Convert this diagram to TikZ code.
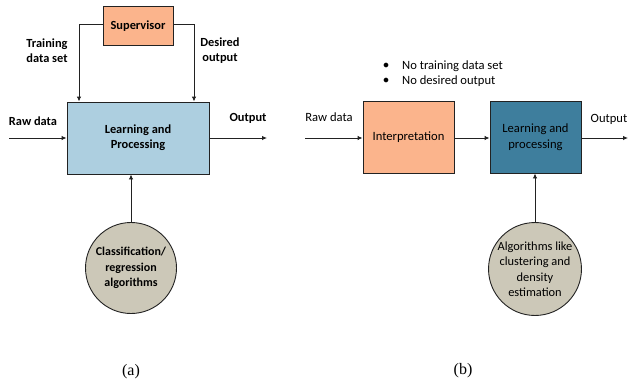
\documentclass[tikz,border=0pt]{standalone}
\usepackage{fontspec}
\setmainfont{Carlito}
\newfontfamily\capfont{Liberation Serif}
\usetikzlibrary{arrows.meta}
\definecolor{salmon}{HTML}{FBB48C}
\definecolor{lblue}{HTML}{ADCFE0}
\definecolor{teal2}{HTML}{3E7E9D}
\definecolor{cgray}{HTML}{CCC8B8}
\definecolor{edge}{HTML}{222222}
\begin{document}
\begin{tikzpicture}[x=1pt,y=-1pt,
  box/.style={draw=edge,line width=0.9pt,inner sep=0pt,align=center,font=\fontsize{12.6}{15.5}\selectfont},
  circ/.style={draw=edge,line width=0.9pt,circle,fill=cgray,inner sep=0pt,align=center,font=\fontsize{12.4}{15.5}\selectfont},
  lbl/.style={align=center,font=\fontsize{12.6}{15}\selectfont,inner sep=0pt},
  bfl/.style={font=\bfseries\fontsize{12.4}{15}\selectfont},
  conn/.style={line width=0.9pt,draw=edge,-{Latex[length=5pt,width=4.5pt]}},
  captext/.style={font=\capfont\fontsize{16}{18}\selectfont,inner sep=0pt}]
\useasboundingbox (0,0) rectangle (629,386);
% ---- panel (a)
\node[box,fill=salmon,minimum width=70pt,minimum height=39pt,bfl] (sup) at (138,26) {Supervisor};
\node[box,fill=lblue,minimum width=142pt,minimum height=72pt,bfl] (lp) at (138,138) {Learning and\\Processing};
\node[circ,minimum size=91pt,font=\bfseries\fontsize{12}{15.5}\selectfont] (ca) at (131,268) {Classification/\\regression\\algorithms};
\coordinate (tl) at (79,24);
\coordinate (tr) at (194,24);
\draw[conn] (sup.west |- tl) -- (tl) -- (tl |- lp.north);
\draw[conn] (sup.east |- tr) -- (tr) -- (tr |- lp.north);
\node[lbl,bfl] (tds) at (47,51) {Training\\data set};
\node[lbl,bfl] (dout) at (220,51) {Desired\\output};
\coordinate (rawa) at (9,138);
\coordinate (outa) at (267,138);
\draw[conn] (rawa) -- (lp.west |- rawa);
\draw[conn] (lp.east |- outa) -- (outa);
\node[lbl,bfl] (rawlbla) at (33,121) {Raw data};
\node[lbl,bfl] (outlbla) at (248,118) {Output};
\draw[conn] (ca.north) -- (ca.north |- lp.south);
\node[captext] (capa) at (131,372) {(a)};
% ---- panel (b)
\node[lbl] (b1) at (386,66) {$\bullet$};
\node[lbl,anchor=west] (t1) at (402,66) {No training data set};
\node[lbl] (b2) at (386,81) {$\bullet$};
\node[lbl,anchor=west] (t2) at (402,81) {No desired output};
\node[box,fill=salmon,minimum width=91pt,minimum height=72pt] (interp) at (408.5,137) {Interpretation};
\node[box,fill=teal2,minimum width=91pt,minimum height=72pt] (lp2) at (535.5,137) {Learning and\\processing};
\node[circ,minimum size=92pt] (cb) at (535,269) {Algorithms like\\clustering and\\density\\estimation};
\coordinate (rawb) at (305,138);
\coordinate (outb) at (628,138);
\draw[conn] (rawb) -- (interp.west |- rawb);
\draw[conn] (interp.east |- rawb) -- (lp2.west |- rawb);
\draw[conn] (lp2.east |- outb) -- (outb);
\node[lbl] (rawlblb) at (329,117) {Raw data};
\node[lbl] (outlblb) at (609,119) {Output};
\draw[conn] (cb.north) -- (cb.north |- lp2.south);
\node[captext] (capb) at (463,371) {(b)};
\end{tikzpicture}
\end{document}
